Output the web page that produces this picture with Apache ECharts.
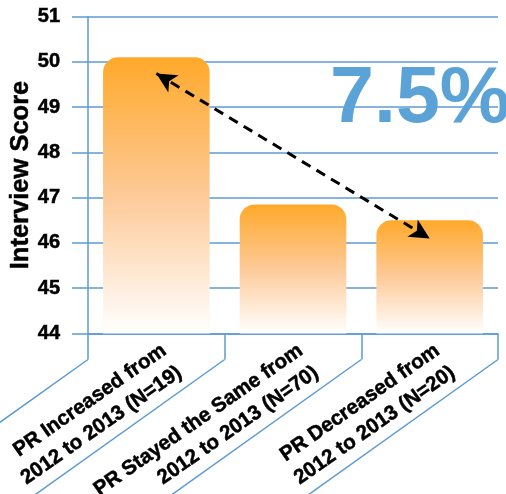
<!DOCTYPE html>
<html>
<head>
<meta charset="utf-8">
<style>
  html, body { margin: 0; padding: 0; background: #ffffff; }
  #chart { width: 506px; height: 494px; }
</style>
<script src="https://cdn.jsdelivr.net/npm/echarts@6/dist/echarts.min.js"></script>
</head>
<body>
<div id="chart"></div>
<script>
// ---- data ----
const categories = [
  'PR Increased from\n2012 to 2013 (N=19)',
  'PR Stayed the Same from\n2012 to 2013 (N=70)',
  'PR Decreased from\n2012 to 2013 (N=20)'
];
const scores = [50.1, 46.85, 46.5];
const yMin = 44, yMax = 51, yStep = 1;
const yAxisTitle = 'Interview Score';
const callout = '7.5%';
// arrow endpoints: [category index, score]
const arrowFrom = [0, 49.74];
const arrowTo = [2, 46.1];

const BLUE = '#5B9BD5';
const FONT = '"Liberation Sans", Arial, sans-serif';

const chart = echarts.init(document.getElementById('chart'), null, { renderer: 'canvas' });

const option = {
  animation: false,
  backgroundColor: '#ffffff',
  grid: { left: 88, right: 8, top: 16.5, bottom: 160.5, containLabel: false, outerBoundsMode: 'none' },
  xAxis: {
    type: 'category',
    data: categories,
    boundaryGap: true,
    axisLine: { show: true, lineStyle: { color: BLUE, width: 1.5 } },
    axisTick: { show: true, length: 26, alignWithLabel: false, interval: 0, lineStyle: { color: BLUE, width: 1.5 } },
    axisLabel: {
      interval: 0,
      rotate: 35,
      margin: 4,
      color: '#000',
      fontFamily: FONT,
      fontWeight: 'bold',
      fontSize: 20.5,
      lineHeight: 27,
      align: 'right',
      verticalAlign: 'top',
      textBorderColor: '#000',
      textBorderWidth: 0.5,
      hideOverlap: false
    },
    splitLine: { show: false }
  },
  yAxis: {
    type: 'value',
    min: yMin, max: yMax, interval: yStep,
    axisLine: { show: true, lineStyle: { color: BLUE, width: 1.5 } },
    axisTick: { show: true, length: 16, inside: false, lineStyle: { color: BLUE, width: 1.5 } },
    axisLabel: { margin: 28, color: '#000', fontFamily: FONT, fontWeight: 'bold', fontSize: 20, textBorderColor: '#000', textBorderWidth: 0.5 },
    splitLine: { show: true, lineStyle: { color: BLUE, width: 1.5 } }
  },
  series: [{
    type: 'bar',
    data: scores,
    barWidth: '78%',
    itemStyle: {
      borderRadius: [15, 15, 0, 0],
      color: new echarts.graphic.LinearGradient(0, 0, 0, 1, [
        { offset: 0, color: '#FFA92A' },
        { offset: 0.5, color: '#FDCA98' },
        { offset: 1, color: '#FFFFFF' }
      ])
    },
    markLine: {
      silent: true,
      symbol: ['arrow', 'arrow'],
      symbolSize: [15, 20],
      label: { show: false },
      lineStyle: { color: '#000', width: 3, type: [10, 7] },
      data: [[{ coord: arrowFrom }, { coord: arrowTo }]]
    }
  }]
};
chart.setOption(option);

// decorative slanted separators below the category axis, axis title and callout
function addDecorations() {
  const c0 = chart.convertToPixel({ xAxisIndex: 0 }, 0);
  const c1 = chart.convertToPixel({ xAxisIndex: 0 }, 1);
  const band = c1 - c0;
  const axisX = c0 - band / 2;
  const axisY = chart.convertToPixel({ yAxisIndex: 0 }, yMin);
  const topY = chart.convertToPixel({ yAxisIndex: 0 }, yMax);
  const yStart = axisY + 26;
  const ang = 35.5 * Math.PI / 180;
  const L = 400;
  const els = [];
  for (let i = 0; i <= categories.length; i++) {
    const x = axisX + i * band;
    els.push({
      type: 'line',
      silent: true,
      shape: { x1: x, y1: yStart, x2: x - L * Math.cos(ang), y2: yStart + L * Math.sin(ang) },
      style: { stroke: BLUE, lineWidth: 1.5 }
    });
  }
  // y-axis title
  els.push({
    type: 'text',
    silent: true,
    x: axisX - 67,
    y: (axisY + topY) / 2,
    rotation: Math.PI / 2,
    style: {
      text: yAxisTitle,
      fill: '#000',
      stroke: '#000',
      lineWidth: 0.5,
      font: 'bold 25.5px ' + FONT,
      textAlign: 'center',
      textVerticalAlign: 'middle'
    }
  });
  // big callout text
  const yMid = chart.convertToPixel({ yAxisIndex: 0 }, 49.15);
  els.push({
    type: 'text',
    silent: true,
    x: 330,
    y: yMid,
    style: {
      text: callout,
      fill: '#5BA3D6',
      font: 'bold 79px ' + FONT,
      textAlign: 'left',
      textVerticalAlign: 'middle'
    }
  });
  chart.setOption({ graphic: { elements: els } });
}
addDecorations();
</script>
</body>
</html>
